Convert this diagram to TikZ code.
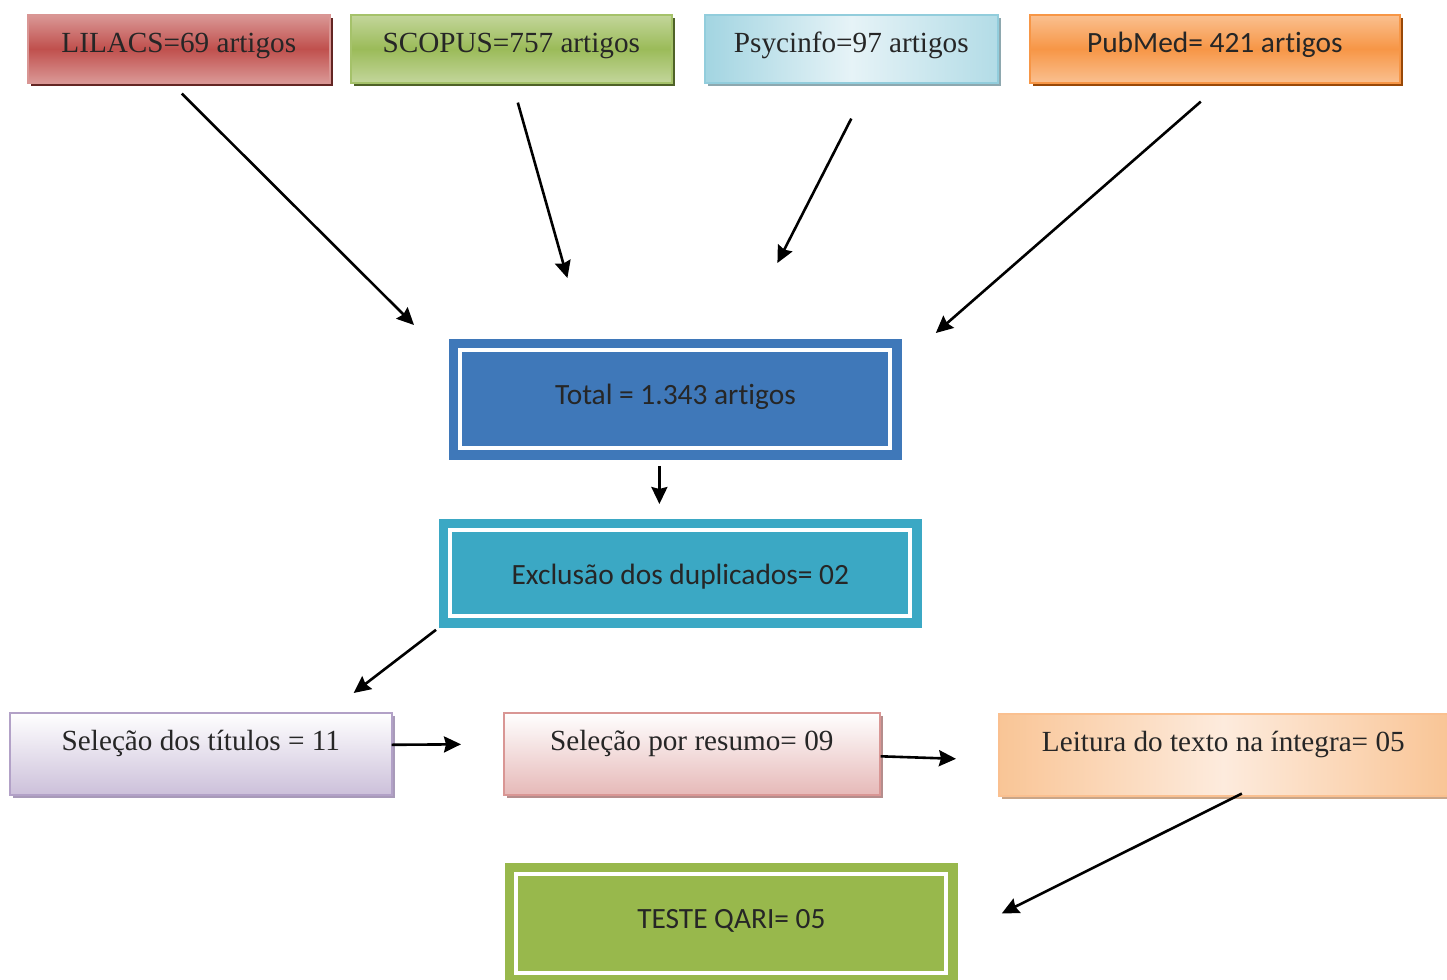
\documentclass[tikz,border=0pt]{standalone}
\usepackage{fontspec}
\setmainfont{Liberation Serif}
\newfontfamily\calibrifont[Ligatures=NoCommon]{Carlito}
\usetikzlibrary{shapes,arrows.meta,positioning,calc,shadows}

\definecolor{redmid}{HTML}{C0504D}
\definecolor{redlight}{HTML}{DA9896}
\definecolor{reddark}{HTML}{632523}
\definecolor{greenmid}{HTML}{9BBB59}
\definecolor{greenlight}{HTML}{C3D69B}
\definecolor{greendark}{HTML}{4F6228}
\definecolor{bluemid}{HTML}{92CDDC}
\definecolor{bluelight}{HTML}{E6F3F7}
\definecolor{bluedark}{HTML}{8EA8AF}
\definecolor{orangemid}{HTML}{F79646}
\definecolor{orangelight}{HTML}{FAC090}
\definecolor{orangedark}{HTML}{984807}
\definecolor{lavender}{HTML}{CCC0DA}
\definecolor{lavenderline}{HTML}{B2A1C7}
\definecolor{pinkish}{HTML}{E6B9B8}
\definecolor{pinkline}{HTML}{D99694}
\definecolor{peach}{HTML}{F9C596}
\definecolor{peachlight}{HTML}{FDEBDD}
\definecolor{totalblue}{HTML}{3F78B9}
\definecolor{exclcyan}{HTML}{3BA8C4}
\definecolor{qarigreen}{HTML}{98B84C}

\begin{document}
\begin{tikzpicture}[
    x=0.5pt, y=-0.5pt,
    every node/.style={font=\fontsize{14.6}{18}\selectfont, text=black!85},
    base/.style={rectangle, anchor=north west, inner sep=0pt, align=center},
    dbbox/.style={base, general shadow={fill=#1, shadow xshift=1.5pt, shadow yshift=-1.5pt},
        text height=19pt, text depth=15pt, minimum height=34pt, line width=0.8pt},
    selbox/.style={base, general shadow={fill=#1, shadow xshift=1.5pt, shadow yshift=-1.5pt},
        text height=19pt, text depth=22pt, minimum height=41pt, line width=0.8pt},
    framed/.style={base, fill=#1, draw=#1, font=\calibrifont\fontsize{14.7}{18}\selectfont,
        path picture={\draw[white, line width=2pt]
            ([shift={(5.5pt,-5.5pt)}]path picture bounding box.north west) rectangle
            ([shift={(-5.5pt,5.5pt)}]path picture bounding box.south east);}},
    arrow/.style={line width=1.3pt, -{Stealth[length=8.5pt,width=8pt,inset=1pt]}}
]
    \useasboundingbox (0,0) rectangle (1447,980);

    % Databases
    \node[dbbox=reddark, draw=pinkline, top color=redlight, bottom color=redlight, middle color=redmid,
        minimum width=151pt] (lilacs) at (27,14) {LILACS=69 artigos};
    \node[dbbox=greendark, draw=greenmid!90, top color=greenlight, bottom color=greenlight, middle color=greenmid,
        minimum width=160.5pt] (scopus) at (350,14) {SCOPUS=757 artigos};
    \node[dbbox=bluedark, draw=bluemid, left color=bluemid!85, right color=bluemid!70, middle color=bluelight,
        minimum width=146.5pt] (psycinfo) at (704,14) {Psycinfo=97 artigos};
    \node[dbbox=orangedark, draw=orangemid, top color=orangelight, bottom color=orangelight, middle color=orangemid,
        minimum width=185pt, font=\calibrifont\fontsize{14.7}{18}\selectfont] (pubmed) at (1029,14) {PubMed= 421 artigos};

    % Total and duplicates
    \node[framed=totalblue, minimum width=226pt, minimum height=60pt,
        text height=32.5pt, text depth=27.5pt] (total) at (449,339) {Total = 1.343 artigos};
    \node[framed=exclcyan, minimum width=241pt, minimum height=54pt,
        text height=32.5pt, text depth=21.5pt] (exclusao) at (439,519) {Exclusão dos duplicados= 02};

    % Selection steps
    \node[selbox=lavenderline!80!gray, draw=lavenderline, top color=white, bottom color=lavender,
        minimum width=191pt] (titulos) at (9,712) {Seleção dos títulos = 11};
    \node[selbox=pinkline!60!gray, draw=pinkline, top color=white, bottom color=pinkish,
        minimum width=188pt] (resumo) at (503,712) {Seleção por resumo= 09};
    \node[selbox=orangelight!60!gray, draw=orangelight, left color=peach, right color=peach, middle color=peachlight,
        minimum width=224.5pt] (leitura) at (998,713) {Leitura do texto na íntegra= 05};

    % QARI test
    \node[framed=qarigreen, minimum width=226pt, minimum height=60.5pt,
        text height=32.5pt, text depth=28pt] (qari) at (505,863) {TESTE QARI= 05};

    % Arrow ends
    \coordinate (l1) at ($(lilacs.south)+(3,10)$);
    \coordinate (l2) at ($(total.north west)+(-35,-14)$);
    \coordinate (s1) at ($(scopus.south)+(6.5,19)$);
    \coordinate (s2) at ($(total.north)+(-108,-61)$);
    \coordinate (p1) at ($(psycinfo.south)+(0,35)$);
    \coordinate (p2) at ($(total.north)+(102,-76)$);
    \coordinate (m1) at ($(pubmed.south)+(-14,18)$);
    \coordinate (m2) at ($(total.north east)+(34,-6)$);
    \coordinate (t1) at ($(total.south)+(-16,6)$);
    \coordinate (t2) at ($(exclusao.north)+(-21,-15)$);
    \coordinate (e1) at ($(exclusao.south west)+(-3,2)$);
    \coordinate (e2) at ($(titulos.north east)+(-39,-19)$);
    \coordinate (a1) at ($(titulos.east)+(-1,-9)$);
    \coordinate (a2) at ($(resumo.west)+(-42,-9.5)$);
    \coordinate (r1) at ($(resumo.east)+(0,2.5)$);
    \coordinate (r2) at ($(leitura.west)+(-42,4)$);
    \coordinate (i1) at ($(leitura.south)+(18.5,-3)$);
    \coordinate (i2) at ($(qari.east)+(44,-10.5)$);

    % Arrows
    \draw[arrow] (l1) -- (l2);
    \draw[arrow] (s1) -- (s2);
    \draw[arrow] (p1) -- (p2);
    \draw[arrow] (m1) -- (m2);
    \draw[arrow] (t1) -- (t2);
    \draw[arrow] (e1) -- (e2);
    \draw[arrow] (a1) -- (a2);
    \draw[arrow] (r1) -- (r2);
    \draw[arrow] (i1) -- (i2);

\end{tikzpicture}
\end{document}
